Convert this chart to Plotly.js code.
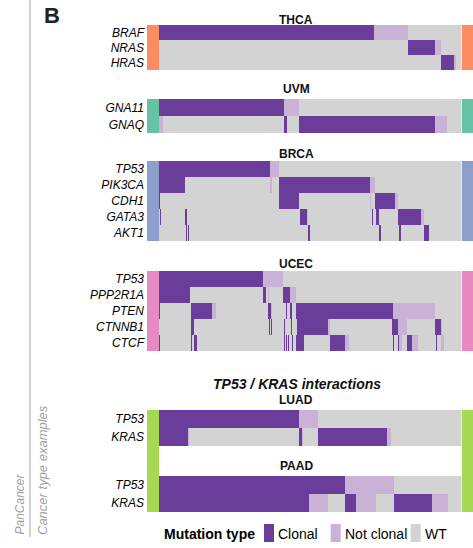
<!DOCTYPE html>
<html><head><meta charset="utf-8">
<script src="https://cdn.plot.ly/plotly-3.0.1.min.js"></script>
<style>html,body{margin:0;padding:0;background:#fff}#chart{width:473px;height:548px}</style>
</head><body><div id="chart"></div>
<script>
// Samples ordered along the x axis (0 .. nSamples); each segment = [gene, start, end]
const nSamples = 302;

const thcaGenes = ["BRAF","NRAS","HRAS"];
const thcaClonal = [["BRAF",0,215],["NRAS",249,276],["HRAS",282,295]];
const thcaNotClonal = [["BRAF",215,249],["NRAS",276,282],["HRAS",295,297]];

const uvmGenes = ["GNA11","GNAQ"];
const uvmClonal = [["GNA11",0,125],["GNAQ",125,128],["GNAQ",140,276]];
const uvmNotClonal = [["GNA11",125,140],["GNAQ",0,4],["GNAQ",276,288]];

const brcaGenes = ["TP53","PIK3CA","CDH1","GATA3","AKT1"];
const brcaClonal = [
  ["TP53",0,111],
  ["PIK3CA",0,26],["PIK3CA",120,211],
  ["CDH1",0,1],["CDH1",120,140],["CDH1",216,236],
  ["GATA3",1,2],["GATA3",26,28.3],["GATA3",141,147.7],["GATA3",212.7,213.7],["GATA3",216.3,219.7],["GATA3",238.7,262],
  ["AKT1",26.7,27.7],["AKT1",28.7,29.7],["AKT1",149,150.7],["AKT1",220,221.7],["AKT1",239.3,242],["AKT1",265,269.3]
];
const brcaNotClonal = [
  ["TP53",111,120],
  ["PIK3CA",111,112.5],["PIK3CA",211,216],
  ["CDH1",211,212],["CDH1",236,239],
  ["GATA3",147.7,148.7],["GATA3",262,265]
];

const ucecGenes = ["TP53","PPP2R1A","PTEN","CTNNB1","CTCF"];
const ucecClonal = [
  ["TP53",0,104.3],
  ["PPP2R1A",0,31],["PPP2R1A",104,106.7],["PPP2R1A",124,131],
  ["PTEN",0,1.3],["PTEN",32,53],["PTEN",109,111.7],["PTEN",126.7,128],["PTEN",131,132.7],["PTEN",137,233.3],
  ["CTNNB1",31.7,35],["CTNNB1",110,111],["CTNNB1",112,113],["CTNNB1",125,126],["CTNNB1",131.3,132.3],["CTNNB1",137.7,168.3],["CTNNB1",233,238.7],["CTNNB1",276,281.7],
  ["CTCF",0,1],["CTCF",32,33],["CTCF",35,37.7],["CTCF",124.3,125.3],["CTCF",126.7,127.7],["CTCF",128.3,129.3],["CTCF",132.7,133.7],["CTCF",137,144.3],["CTCF",171,186],["CTCF",233.3,234.3],["CTCF",239,240],["CTCF",247.7,252.7],["CTCF",276.7,277.7]
];
const ucecNotClonal = [
  ["TP53",104.3,123.7],
  ["PPP2R1A",109,110],["PPP2R1A",131,137],
  ["PTEN",53,56.7],["PTEN",111.7,113],["PTEN",233.3,276],
  ["CTNNB1",168.3,171],["CTNNB1",238.7,247.7],["CTNNB1",281.7,283],
  ["CTCF",186,190],["CTCF",240,242.7],["CTCF",252.7,258.7],["CTCF",281.7,284.3]
];

const luadGenes = ["TP53","KRAS"];
const luadClonal = [["TP53",0,140],["KRAS",0,29],["KRAS",140,143],["KRAS",159,228]];
const luadNotClonal = [["TP53",140,159],["KRAS",29,30],["KRAS",143,144],["KRAS",228,232]];

const paadGenes = ["TP53","KRAS"];
const paadClonal = [["TP53",0,186],["KRAS",0,150],["KRAS",186,197],["KRAS",235,273]];
const paadNotClonal = [["TP53",186,235],["KRAS",150,168.3],["KRAS",197,217],["KRAS",273,288.3]];

const panelTitles = ["THCA","UVM","BRCA","UCEC","LUAD","PAAD"];
const legendLabels = ["Clonal","Not clonal","WT"];

// ---- styling ----
const W = 473, H = 548;
const X = px => px / W;
const Y = px => 1 - px / H;
const FONT = "Liberation Sans, Arial, Helvetica, sans-serif";
const C_CLONAL = "#6A3D9A", C_NC = "#CAB2D6", C_WT = "#D3D3D3";

const panels = [
  {genes: thcaGenes, clonal: thcaClonal, nc: thcaNotClonal, ax: "y",  top: 25,  bot: 70,  color: "#FC8D62", title: 19.5},
  {genes: uvmGenes,  clonal: uvmClonal,  nc: uvmNotClonal,  ax: "y2", top: 99,  bot: 133, color: "#66C2A5", title: 88.5},
  {genes: brcaGenes, clonal: brcaClonal, nc: brcaNotClonal, ax: "y3", top: 161, bot: 241, color: "#8DA0CB", title: 153.5},
  {genes: ucecGenes, clonal: ucecClonal, nc: ucecNotClonal, ax: "y4", top: 271, bot: 351, color: "#E78AC3", title: 263.5},
  {genes: luadGenes, clonal: luadClonal, nc: luadNotClonal, ax: "y5", top: 410, bot: 446, color: "#A6D854", title: 400},
  {genes: paadGenes, clonal: paadClonal, nc: paadNotClonal, ax: "y6", top: 476, bot: 512, color: "#A6D854", title: 466.5}
];

const traces = [];
const layout = {
  width: W, height: H,
  margin: {l: 0, r: 0, t: 0, b: 0},
  paper_bgcolor: "#fff", plot_bgcolor: "rgba(0,0,0,0)",
  showlegend: false,
  barmode: "overlay", bargap: 0,
  font: {family: FONT, color: "#000"},
  xaxis: {domain: [X(159), X(461.5)], range: [0, nSamples], visible: false, anchor: "y", fixedrange: true},
  shapes: [], annotations: []
};

function segTrace(segs, color, ax, name) {
  return {
    type: "bar", orientation: "h", name: name,
    y: segs.map(s => s[0]), base: segs.map(s => s[1]), x: segs.map(s => s[2] - s[1]),
    width: 1, marker: {color: color, line: {width: 0}},
    xaxis: "x", yaxis: ax, hoverinfo: "skip"
  };
}

panels.forEach((p, i) => {
  traces.push({
    type: "bar", orientation: "h", name: "WT",
    y: p.genes, base: p.genes.map(() => 0), x: p.genes.map(() => nSamples),
    width: 1, marker: {color: C_WT, line: {width: 0}}, xaxis: "x", yaxis: p.ax, hoverinfo: "skip"
  });
  traces.push(segTrace(p.nc, C_NC, p.ax, "Not clonal"));
  traces.push(segTrace(p.clonal, C_CLONAL, p.ax, "Clonal"));
  const key = p.ax === "y" ? "yaxis" : "yaxis" + p.ax.slice(1);
  layout[key] = {
    domain: [Y(p.bot), Y(p.top)], type: "category",
    categoryorder: "array", categoryarray: p.genes,
    range: [p.genes.length - 0.5, -0.5], anchor: "x",
    showgrid: false, zeroline: false, showline: false, ticks: "",
    ticklabelstandoff: 14,
    tickfont: {family: FONT, size: 12, color: "#000", style: "italic"},
    fixedrange: true
  };
  layout.annotations.push({
    text: "<b>" + panelTitles[i] + "</b>", xref: "paper", yref: "paper",
    x: X(296), y: Y(p.title), showarrow: false, xanchor: "center", yanchor: "middle",
    font: {family: FONT, size: 12, color: "#111"}
  });
  // cancer type colour strips
  if (i < 4) {
    layout.shapes.push({type: "rect", xref: "paper", yref: "paper", x0: X(147), x1: X(159), y0: Y(p.bot), y1: Y(p.top), fillcolor: p.color, line: {width: 0}, layer: "above"});
    layout.shapes.push({type: "rect", xref: "paper", yref: "paper", x0: X(462), x1: X(474), y0: Y(p.bot), y1: Y(p.top), fillcolor: p.color, line: {width: 0}, layer: "above"});
  }
});
// combined LUAD/PAAD strip
layout.shapes.push({type: "rect", xref: "paper", yref: "paper", x0: X(147), x1: X(159), y0: Y(512), y1: Y(410), fillcolor: "#A6D854", line: {width: 0}});
layout.shapes.push({type: "rect", xref: "paper", yref: "paper", x0: X(462), x1: X(474), y0: Y(512), y1: Y(410), fillcolor: "#A6D854", line: {width: 0}});

// left divider line
layout.shapes.push({type: "line", xref: "paper", yref: "paper", x0: X(30), x1: X(30), y0: 1, y1: Y(537), line: {color: "#D0D0D0", width: 2}});

// section header & letter
layout.annotations.push({text: "<b><i>TP53 / KRAS interactions</i></b>", xref: "paper", yref: "paper", x: X(297), y: Y(383.5), showarrow: false, xanchor: "center", yanchor: "middle", font: {family: FONT, size: 14, color: "#111"}});
layout.annotations.push({text: "<b>B</b>", xref: "paper", yref: "paper", x: X(42), y: Y(16), showarrow: false, xanchor: "left", yanchor: "middle", font: {family: FONT, size: 22, color: "#222"}});
layout.annotations.push({text: "<i>PanCancer</i>", xref: "paper", yref: "paper", x: X(19), y: Y(537), textangle: -90, showarrow: false, xanchor: "center", yanchor: "bottom", font: {family: FONT, size: 12, color: "#A0A0A0"}});
layout.annotations.push({text: "<i>Cancer type examples</i>", xref: "paper", yref: "paper", x: X(42), y: Y(537), textangle: -90, showarrow: false, xanchor: "center", yanchor: "bottom", font: {family: FONT, size: 13, color: "#A0A0A0"}});

// legend
layout.annotations.push({text: "<b>Mutation type</b>", xref: "paper", yref: "paper", x: X(162), y: Y(534), showarrow: false, xanchor: "left", yanchor: "middle", font: {family: FONT, size: 14, color: "#000"}});
const legColors = [C_CLONAL, C_NC, C_WT];
const legX = [264, 330.7, 410.7];
legendLabels.forEach((lab, k) => {
  layout.shapes.push({type: "rect", xref: "paper", yref: "paper", x0: X(legX[k]), x1: X(legX[k] + 10), y0: Y(542), y1: Y(524), fillcolor: legColors[k], line: {width: 0}});
  layout.annotations.push({text: lab, xref: "paper", yref: "paper", x: X(legX[k] + 12), y: Y(534), showarrow: false, xanchor: "left", yanchor: "middle", font: {family: FONT, size: 14, color: "#000"}});
});

Plotly.newPlot("chart", traces, layout, {staticPlot: true, displayModeBar: false});
</script>
</body></html>
